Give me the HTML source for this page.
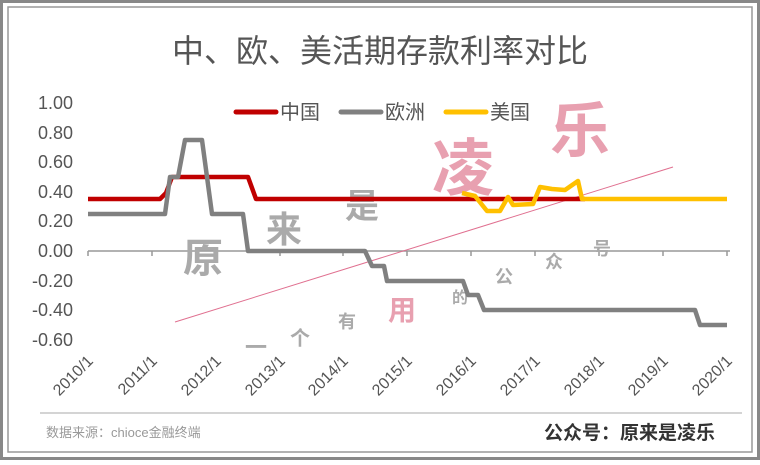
<!DOCTYPE html>
<html><head><meta charset="utf-8"><style>
body{margin:0;width:760px;height:460px;background:#fff;overflow:hidden}
text{font-family:"Liberation Sans","Noto Sans CJK SC",sans-serif}
</style></head><body>
<svg width="760" height="460" viewBox="0 0 760 460">
<rect x="1.5" y="1.5" width="757" height="457" fill="none" stroke="#888" stroke-width="3"/>
<rect x="8" y="7" width="744" height="445" fill="none" stroke="#999" stroke-width="1.5"/>
<text x="380" y="62" text-anchor="middle" font-size="32" fill="#555">中、欧、美活期存款利率对比</text>
<g font-size="18" fill="#555" text-anchor="end">
<text x="73" y="109">1.00</text><text x="73" y="139">0.80</text><text x="73" y="168">0.60</text>
<text x="73" y="198">0.40</text><text x="73" y="227">0.20</text><text x="73" y="257">0.00</text>
<text x="73" y="287">-0.20</text><text x="73" y="316">-0.40</text><text x="73" y="346">-0.60</text>
</g>
<line x1="88" y1="251" x2="730" y2="251" stroke="#999" stroke-width="1.5"/>
<g stroke="#999" stroke-width="1.5">
<line x1="88" y1="251" x2="88" y2="256"/><line x1="152" y1="251" x2="152" y2="256"/><line x1="216" y1="251" x2="216" y2="256"/><line x1="280" y1="251" x2="280" y2="256"/><line x1="343" y1="251" x2="343" y2="256"/><line x1="407" y1="251" x2="407" y2="256"/><line x1="471" y1="251" x2="471" y2="256"/><line x1="535" y1="251" x2="535" y2="256"/><line x1="599" y1="251" x2="599" y2="256"/><line x1="663" y1="251" x2="663" y2="256"/><line x1="727" y1="251" x2="727" y2="256"/>
</g>
<g font-size="16" fill="#555" text-anchor="end">
<text transform="translate(94,362) rotate(-45)">2010/1</text>
<text transform="translate(158,362) rotate(-45)">2011/1</text>
<text transform="translate(222,362) rotate(-45)">2012/1</text>
<text transform="translate(286,362) rotate(-45)">2013/1</text>
<text transform="translate(349,362) rotate(-45)">2014/1</text>
<text transform="translate(413,362) rotate(-45)">2015/1</text>
<text transform="translate(477,362) rotate(-45)">2016/1</text>
<text transform="translate(541,362) rotate(-45)">2017/1</text>
<text transform="translate(605,362) rotate(-45)">2018/1</text>
<text transform="translate(669,362) rotate(-45)">2019/1</text>
<text transform="translate(733,362) rotate(-45)">2020/1</text>
</g>
<line x1="175" y1="322" x2="673" y2="167" stroke="#e07090" stroke-width="1"/>
<g fill="#e8a0b0" font-family="'Noto Serif CJK SC',serif" font-weight="bold">
<text x="432" y="190" font-size="62">凌</text><text x="550" y="152" font-size="60">乐</text>
<text x="388" y="320" font-size="28">用</text>
</g>
<g fill="#aaa" font-family="'Noto Serif CJK SC',serif" font-weight="bold">
<text x="183" y="272" font-size="40">原</text><text x="266" y="242" font-size="36">来</text><text x="345" y="218" font-size="34">是</text>
<text x="245" y="355" font-size="22">一</text><text x="290" y="345" font-size="20">个</text><text x="338" y="328" font-size="18">有</text>
<text x="452" y="303" font-size="16">的</text><text x="495" y="283" font-size="18">公</text><text x="545" y="268" font-size="18">众</text><text x="593" y="255" font-size="18">号</text>
</g>
<polyline fill="none" stroke="#c00000" stroke-width="4.5" stroke-linejoin="round" points="88,199 160,199 166,193 172,177 248,177 256,199 585,199"/>
<polyline fill="none" stroke="#808080" stroke-width="4.5" stroke-linejoin="round" points="88,214 165,214 170,177 178,177 185,140 202,140 212,214 243,214 248,251 365,251 372,266 384,266 387,281 463,281 468,295 478,295 484,310 695,310 700,325 727,325"/>
<polyline fill="none" stroke="#ffc000" stroke-width="4.5" stroke-linejoin="round" points="462,193 475,196 487,211 500,211 508,197 513,205 533,204 540,187 552,189 565,190 578,181 582,199 727,199"/>
<line x1="236" y1="112" x2="276" y2="112" stroke="#c00000" stroke-width="5" stroke-linecap="round"/>
<text x="280" y="119" font-size="20" fill="#555">中国</text>
<line x1="341" y1="112" x2="381" y2="112" stroke="#808080" stroke-width="5" stroke-linecap="round"/>
<text x="385" y="119" font-size="20" fill="#555">欧洲</text>
<line x1="446" y1="112" x2="486" y2="112" stroke="#ffc000" stroke-width="5" stroke-linecap="round"/>
<text x="490" y="119" font-size="20" fill="#555">美国</text>
<line x1="40" y1="413" x2="742" y2="413" stroke="#aaa" stroke-width="1"/>
<text x="46" y="437" font-size="13" fill="#999">数据来源：chioce金融终端</text>
<text x="544" y="439" font-size="19" font-weight="bold" fill="#333">公众号：原来是凌乐</text>
</svg>
</body></html>
